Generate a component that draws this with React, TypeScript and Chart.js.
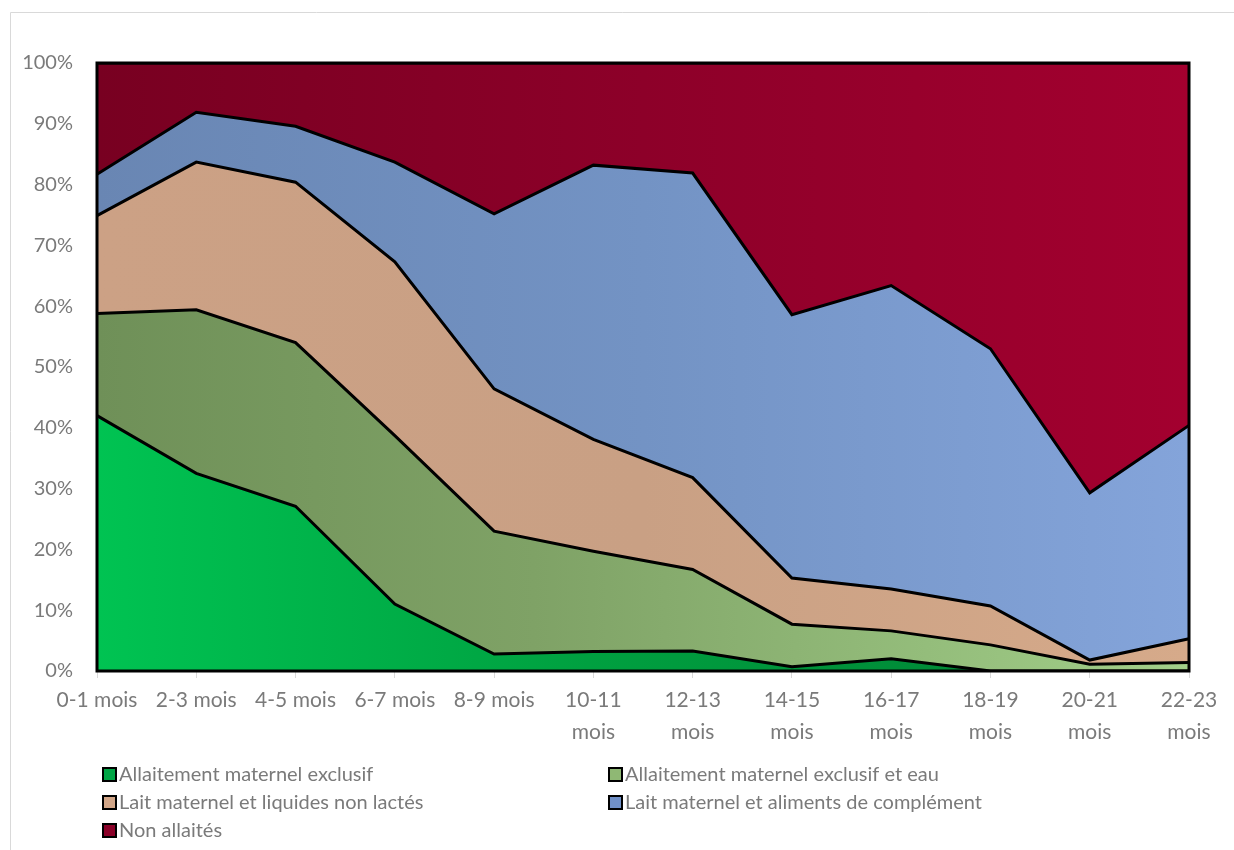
import React, { useEffect, useRef } from "react";
import { Chart, registerables } from "chart.js";

Chart.register(...registerables);

// Age groups (two-line labels for the longer ones)
const categories: (string | string[])[] = [
  "0-1 mois",
  "2-3 mois",
  "4-5 mois",
  "6-7 mois",
  "8-9 mois",
  ["10-11", "mois"],
  ["12-13", "mois"],
  ["14-15", "mois"],
  ["16-17", "mois"],
  ["18-19", "mois"],
  ["20-21", "mois"],
  ["22-23", "mois"],
];

// Share of children (%) in each feeding practice, by age group
const exclusif = [42.0, 32.5, 27.1, 11.0, 2.8, 3.2, 3.3, 0.7, 2.0, 0, 0, 0];
const exclusifEau = [16.8, 26.9, 26.9, 27.7, 20.2, 16.5, 13.4, 7.0, 4.6, 4.3, 1.1, 1.4];
const liquidesNonLactes = [16.1, 24.3, 26.4, 28.6, 23.4, 18.4, 15.1, 7.6, 6.9, 6.4, 0.7, 3.9];
const alimentsComplement = [6.8, 8.2, 9.2, 16.4, 28.8, 45.1, 50.1, 43.3, 49.9, 42.3, 27.5, 35.1];
const nonAllaites = [18.3, 8.1, 10.4, 16.3, 24.8, 16.8, 18.1, 41.4, 36.6, 47.0, 70.7, 59.6];

const yTicks = [0, 10, 20, 30, 40, 50, 60, 70, 80, 90, 100];

const seriesNames = [
  "Allaitement maternel exclusif",
  "Allaitement maternel exclusif et eau",
  "Lait maternel et liquides non lactés",
  "Lait maternel et aliments de complément",
  "Non allaités",
];

// Horizontal gradient stops for each band
const gradientStops: [number, string][][] = [
  [[0, "#00c352"], [0.45, "#00a040"], [1, "#007d32"]],
  [[0, "#6f9058"], [0.4, "#7fa266"], [1, "#a2cf89"]],
  [[0, "#cca185"], [0.5, "#c9a084"], [1, "#d6aa8a"]],
  [[0, "#6986b3"], [0.5, "#7393c4"], [1, "#84a4da"]],
  [[0, "#780021"], [0.5, "#8d0029"], [1, "#a3002f"]],
];
const swatchColors = ["#00a545", "#8fb874", "#d2a688", "#7090c8", "#8a0028"];

const FONT = "Lato, 'Open Sans', sans-serif";
const TEXT_GRAY = "#7a7a7a";

function makeFill(idx: number) {
  return (ctx: any) => {
    const chart = ctx.chart;
    const area = chart.chartArea;
    if (!area) return swatchColors[idx];
    const g = chart.ctx.createLinearGradient(area.left, 0, area.right, 0);
    for (const [p, c] of gradientStops[idx]) g.addColorStop(p, c);
    return g;
  };
}

const framePlugin = {
  id: "frameAndLegend",
  afterDatasetsDraw(chart: any) {
    const { ctx, chartArea } = chart;
    ctx.save();
    ctx.strokeStyle = "#000";
    ctx.lineWidth = 3;
    ctx.strokeRect(chartArea.left, chartArea.top, chartArea.right - chartArea.left, chartArea.bottom - chartArea.top);
    ctx.restore();
  },
  afterDraw(chart: any) {
    const { ctx } = chart;
    ctx.save();
    // outer chart frame
    ctx.strokeStyle = "#d9d9d9";
    ctx.lineWidth = 1;
    ctx.beginPath();
    ctx.moveTo(10.5, 850);
    ctx.lineTo(10.5, 12.5);
    ctx.lineTo(1234, 12.5);
    ctx.stroke();

    // legend in two columns
    const cols = [103, 609];
    const rows = [775, 803, 831];
    ctx.font = `20px ${FONT}`;
    ctx.textBaseline = "middle";
    chart.data.datasets.forEach((ds: any, i: number) => {
      const x = cols[i % 2];
      const y = rows[Math.floor(i / 2)];
      ctx.fillStyle = swatchColors[i];
      ctx.fillRect(x, y - 7, 13, 13);
      ctx.strokeStyle = "#000";
      ctx.lineWidth = 2;
      ctx.strokeRect(x, y - 7, 13, 13);
      ctx.fillStyle = TEXT_GRAY;
      ctx.fillText(ds.label, x + 16, y);
    });
    ctx.restore();
  },
};

export default function App() {
  const canvasRef = useRef<HTMLCanvasElement | null>(null);

  useEffect(() => {
    const canvas = canvasRef.current;
    if (!canvas) return;
    const seriesData = [exclusif, exclusifEau, liquidesNonLactes, alimentsComplement, nonAllaites];
    const chart = new Chart(canvas, {
      type: "line",
      data: {
        labels: categories,
        datasets: seriesData.map((d, i) => ({
          label: seriesNames[i],
          data: d,
          fill: i === 0 ? "origin" : "-1",
          backgroundColor: makeFill(i),
          borderColor: "#000",
          borderWidth: 3,
          pointRadius: 0,
          tension: 0,
        })),
      },
      options: {
        animation: false,
        responsive: false,
        layout: { padding: { top: 63, left: 0, right: 45, bottom: 99 } },
        plugins: {
          legend: { display: false },
          tooltip: { enabled: false },
          title: { display: false },
        },
        scales: {
          x: {
            offset: false,
            grid: {
              display: true,
              drawOnChartArea: false,
              drawTicks: true,
              tickLength: 7,
              color: "#d9d9d9",
            },
            border: { display: false },
            ticks: {
              color: TEXT_GRAY,
              font: { family: FONT, size: 21, lineHeight: 1.52 },
              padding: 6,
              maxRotation: 0,
              autoSkip: false,
            },
            afterFit: (scale: any) => {
              scale.height = 80;
            },
          },
          y: {
            stacked: true,
            min: 0,
            max: 100,
            afterBuildTicks: (scale: any) => {
              scale.ticks = yTicks.map((v) => ({ value: v }));
            },
            grid: { display: false, drawTicks: false },
            border: { display: false },
            ticks: {
              color: TEXT_GRAY,
              font: { family: FONT, size: 20 },
              padding: 24,
              callback: (v: any) => `${v}%`,
            },
            afterFit: (scale: any) => {
              scale.width = 97;
            },
          },
        },
      },
      plugins: [framePlugin],
    });
    return () => chart.destroy();
  }, []);

  return (
    <div style={{ position: "absolute", left: 0, top: 0, width: 1234, height: 850, background: "#fff" }}>
      <canvas ref={canvasRef} width={1234} height={850} style={{ display: "block" }} />
    </div>
  );
}
